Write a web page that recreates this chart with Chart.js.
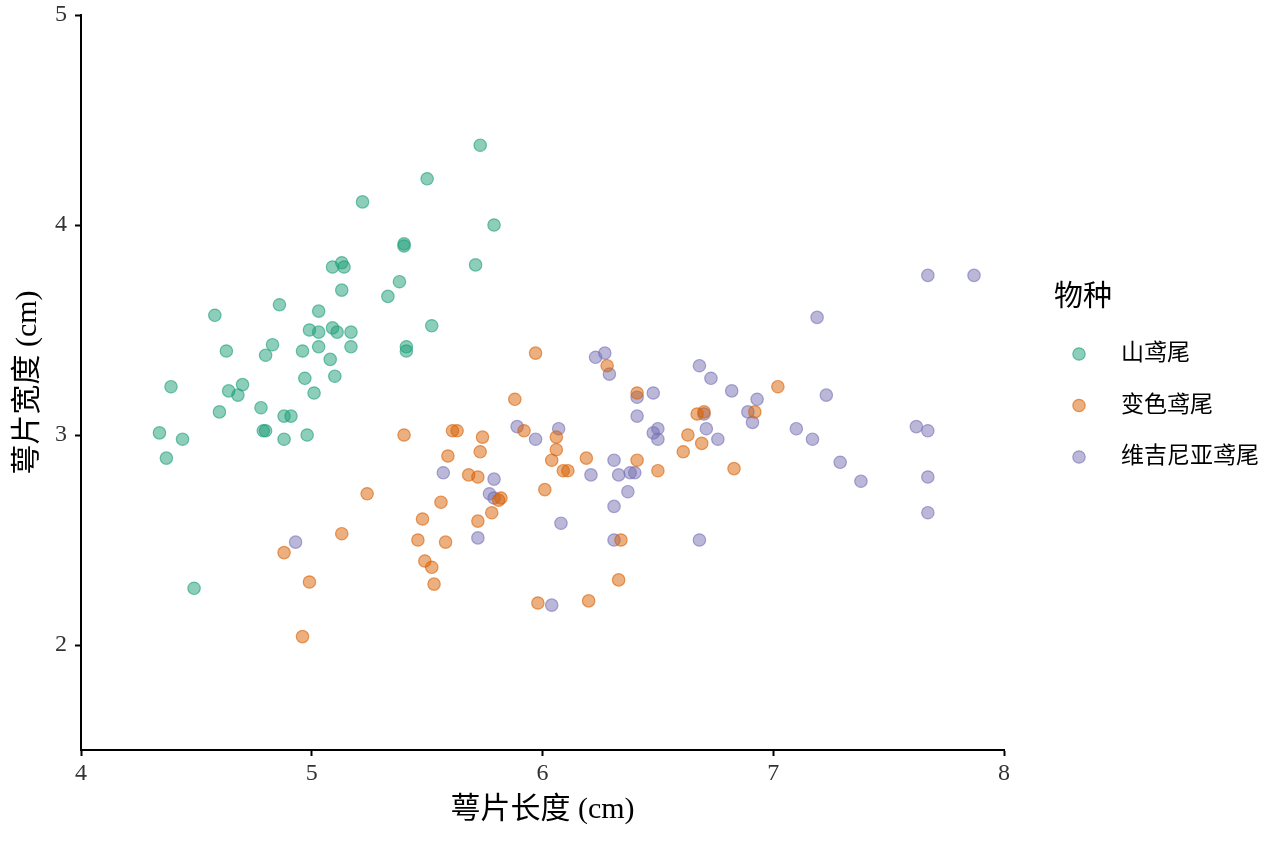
<!DOCTYPE html>
<html>
<head>
<meta charset="utf-8">
<script src="https://cdn.jsdelivr.net/npm/chart.js@4"></script>
<style>
  html, body { margin: 0; padding: 0; background: #fff; }
  #wrap { width: 1264px; height: 843px; }
</style>
</head>
<body>
<div id="wrap"><canvas id="myChart" width="1264" height="843"></canvas></div>
<script>
// species names
const speciesNames = ['山鸢尾', '变色鸢尾', '维吉尼亚鸢尾'];
const speciesColors = ['27, 158, 119', '217, 95, 2', '117, 112, 179'];

// sepal length / width
const setosaLength = [5.50, 5.73, 5.22, 5.40, 5.40, 5.13, 5.14, 5.09, 5.38, 5.33,
  5.13, 4.86, 5.03, 4.58, 5.52, 5.71, 5.79, 4.99, 5.03, 5.09,
  5.11, 5.17, 4.63, 4.83, 4.80, 4.96, 5.03, 5.17, 5.41, 5.41,
  5.08, 4.97, 5.10, 4.39, 5.01, 4.64, 4.70, 4.68, 4.60, 4.78,
  4.88, 4.91, 4.79, 4.80, 4.88, 4.98, 4.34, 4.44, 4.37, 4.49];
const setosaWidth = [4.22, 4.38, 4.11, 3.91, 3.90, 3.82, 3.80, 3.80, 3.73, 3.66,
  3.69, 3.62, 3.59, 3.57, 3.52, 3.81, 4.00, 3.50, 3.49, 3.51,
  3.49, 3.49, 3.40, 3.43, 3.38, 3.40, 3.42, 3.42, 3.42, 3.40,
  3.36, 3.27, 3.28, 3.23, 3.20, 3.21, 3.24, 3.19, 3.11, 3.13,
  3.09, 3.09, 3.02, 3.02, 2.98, 3.00, 3.01, 2.98, 2.89, 2.27];

const versicolorLength = [5.40, 5.61, 5.63, 5.59, 5.56, 5.24, 5.48, 5.46, 5.58, 5.13,
  4.88, 5.49, 5.52, 5.53, 4.99, 4.96, 5.97, 5.88, 5.74, 5.73,
  5.68, 5.72, 5.92, 6.06, 6.06, 6.04, 6.09, 6.11, 6.01, 5.82,
  5.81, 5.78, 5.72, 5.98, 6.28, 6.41, 6.19, 6.41, 6.50, 6.34,
  6.33, 6.20, 6.67, 6.70, 6.63, 6.69, 6.61, 6.83, 6.92, 7.02];
const versicolorWidth = [3.00, 3.02, 3.02, 2.90, 2.68, 2.72, 2.60, 2.50, 2.49, 2.53,
  2.44, 2.40, 2.37, 2.29, 2.30, 2.04, 3.39, 3.17, 2.99, 2.92,
  2.81, 2.80, 3.02, 2.99, 2.93, 2.88, 2.83, 2.83, 2.74, 2.70,
  2.69, 2.63, 2.59, 2.20, 3.33, 3.20, 2.89, 2.88, 2.83, 2.50,
  2.31, 2.21, 3.10, 3.11, 3.00, 2.96, 2.92, 2.84, 3.11, 3.23];

const virginicaLength = [5.57, 4.93, 5.89, 5.97, 6.07, 5.79, 5.77, 5.79, 5.72, 6.08,
  6.04, 6.23, 6.27, 6.29, 6.41, 6.48, 6.41, 6.48, 6.50, 6.50,
  6.21, 6.31, 6.33, 6.38, 6.40, 6.37, 6.31, 6.31, 6.68, 6.73,
  6.82, 6.93, 6.89, 6.91, 6.70, 6.71, 6.76, 6.68, 7.10, 7.67,
  7.87, 7.19, 7.23, 7.17, 7.29, 7.38, 7.62, 7.67, 7.67, 7.67];
const virginicaWidth = [2.82, 2.49, 3.04, 2.98, 3.03, 2.79, 2.72, 2.70, 2.51, 2.58,
  2.19, 3.37, 3.39, 3.29, 3.18, 3.20, 3.09, 3.01, 3.03, 2.98,
  2.81, 2.88, 2.81, 2.82, 2.82, 2.73, 2.66, 2.50, 3.33, 3.27,
  3.21, 3.17, 3.11, 3.06, 3.10, 3.03, 2.98, 2.50, 3.03, 3.76,
  3.76, 3.56, 3.19, 2.98, 2.87, 2.78, 3.04, 3.02, 2.80, 2.63];

const xTicks = [4, 5, 6, 7, 8];
const yTicks = [2, 3, 4, 5];

const serif = "'Liberation Serif', 'Noto Sans CJK SC', serif";

const toPoints = (xs, ys) => xs.map((x, i) => ({ x: x, y: ys[i] }));
const allLength = [setosaLength, versicolorLength, virginicaLength];
const allWidth = [setosaWidth, versicolorWidth, virginicaWidth];

const datasets = speciesNames.map((name, i) => ({
  label: name,
  data: toPoints(allLength[i], allWidth[i]),
  backgroundColor: 'rgba(' + speciesColors[i] + ', 0.5)',
  borderColor: 'rgba(' + speciesColors[i] + ', 0.6)',
  borderWidth: 1.2,
  pointRadius: 6.2,
  pointHoverRadius: 6.2
}));

// legend drawn by hand so it sits where ggplot puts it
const sideLegend = {
  id: 'sideLegend',
  afterDraw(chart) {
    const ctx = chart.ctx;
    ctx.save();
    ctx.fillStyle = '#000';
    ctx.textBaseline = 'middle';
    ctx.textAlign = 'left';
    ctx.font = "29px " + serif;
    ctx.fillText('物种', 1054, 298);
    ctx.font = "23px " + serif;
    chart.data.datasets.forEach((ds, i) => {
      const y = 354 + i * 51.5;
      ctx.beginPath();
      ctx.arc(1079, y, 6.2, 0, Math.PI * 2);
      ctx.fillStyle = ds.backgroundColor;
      ctx.fill();
      ctx.lineWidth = 1.2;
      ctx.strokeStyle = ds.borderColor;
      ctx.stroke();
      ctx.fillStyle = '#000';
      ctx.fillText(ds.label, 1121, y);
    });
    ctx.restore();
  }
};

new Chart(document.getElementById('myChart').getContext('2d'), {
  type: 'scatter',
  data: { datasets: datasets },
  options: {
    responsive: false,
    animation: false,
    layout: { padding: { top: 15, right: 260, left: 0, bottom: 0 } },
    plugins: {
      legend: { display: false },
      tooltip: { enabled: false }
    },
    scales: {
      x: {
        type: 'linear',
        min: 4,
        max: 8,
        afterBuildTicks: (s) => { s.ticks = xTicks.map(v => ({ value: v })); },
        afterFit: (s) => { s.height = 93; s.paddingLeft = 0; s.paddingRight = 0; },
        border: { color: '#000', width: 2 },
        grid: { display: true, drawOnChartArea: false, tickLength: 6, tickWidth: 2, tickColor: '#000' },
        ticks: { color: '#333', font: { family: serif, size: 24 }, padding: 3 },
        title: {
          display: true,
          text: '萼片长度 (cm)',
          color: '#000',
          font: { family: serif, size: 30 },
          padding: { top: 0, bottom: 15 }
        }
      },
      y: {
        type: 'linear',
        min: 1.5,
        max: 5,
        afterBuildTicks: (s) => { s.ticks = yTicks.map(v => ({ value: v })); },
        afterFit: (s) => { s.width = 81; s.paddingTop = 0; s.paddingBottom = 0; },
        border: { color: '#000', width: 2 },
        grid: { display: true, drawOnChartArea: false, tickLength: 6, tickWidth: 2, tickColor: '#000' },
        ticks: { color: '#333', font: { family: serif, size: 24 }, padding: 8 },
        title: {
          display: true,
          text: '萼片宽度 (cm)',
          color: '#000',
          font: { family: serif, size: 30 },
          padding: { top: 10, bottom: 0 }
        }
      }
    }
  },
  plugins: [sideLegend]
});
</script>
</body>
</html>
